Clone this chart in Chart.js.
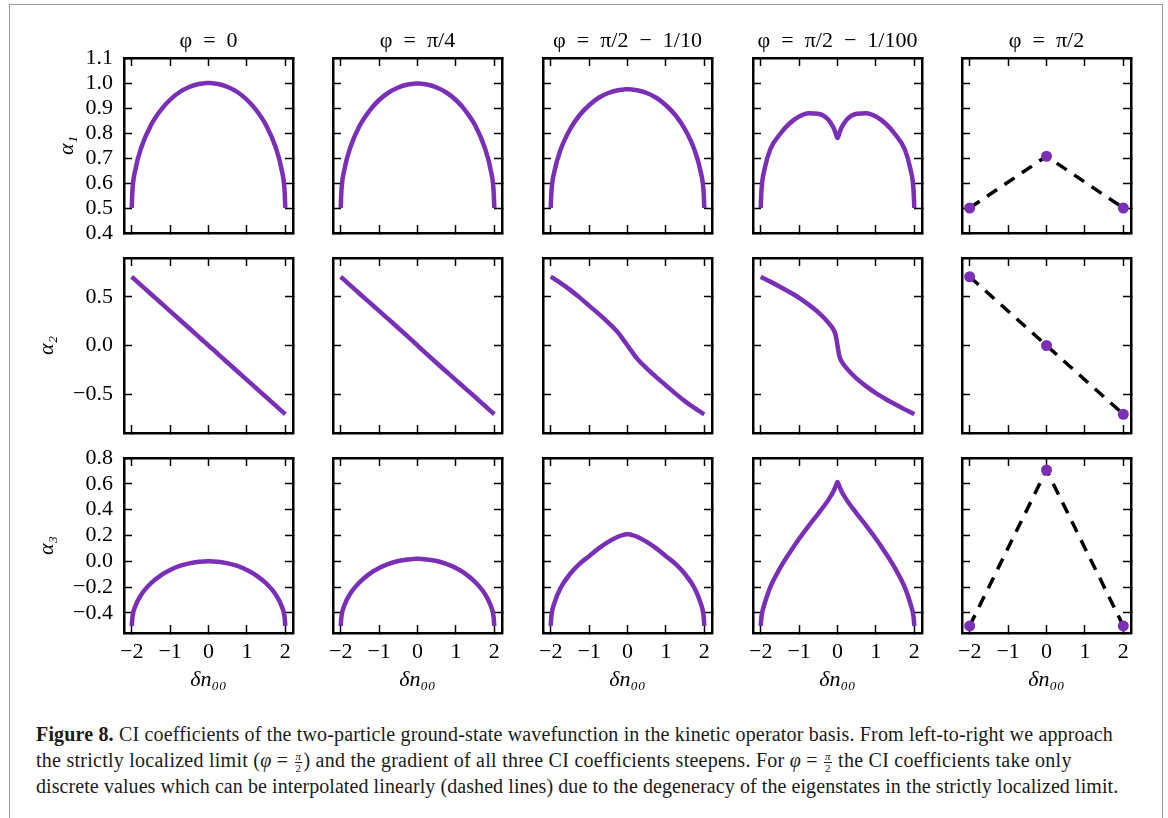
<!DOCTYPE html>
<html>
<head>
<meta charset="utf-8">
<script src="https://cdn.jsdelivr.net/npm/chart.js@4.4.0/dist/chart.umd.min.js"></script>
<style>
body { margin: 0; background: #fff; width: 1168px; height: 818px; overflow: hidden; position: relative; font-family: "Liberation Serif", serif; }
#frame { position: absolute; left: 9px; top: 4px; width: 1152px; height: 830px; border: 1.5px solid #9a9a9a; border-bottom: none; }
canvas { position: absolute; }
.cap { position: absolute; left: 36px; font-size: 20px; line-height: 26px; height: 26px; color: #1a1a1a; white-space: nowrap; }
.fr { display: inline-block; vertical-align: middle; font-size: 11px; line-height: 11px; text-align: center; margin: 0 1px; }
.fr span { display: block; padding: 0 1px; }
.fr .n { border-bottom: 1px solid #1a1a1a; }
</style>
</head>
<body>
<div id="frame"></div>
<div id="panels"></div>

<div class="cap" id="cap1" style="top:721px"><b>Figure 8.</b> CI coefficients of the two-particle ground-state wavefunction in the kinetic operator basis. From left-to-right we approach</div>
<div class="cap" id="cap2" style="top:747px">the strictly localized limit (<i>φ</i> = <span class="fr"><span class="n"><i>π</i></span><span>2</span></span>) and the gradient of all three CI coefficients steepens. For <i>φ</i> = <span class="fr"><span class="n"><i>π</i></span><span>2</span></span> the CI coefficients take only</div>
<div class="cap" id="cap3" style="top:773px">discrete values which can be interpolated linearly (dashed lines) due to the degeneracy of the eigenstates in the strictly localized limit.</div>

<script>
// =========================
// DATA
// =========================

const dn = [-2, -1.98, -1.9, -1.75, -1.5, -1.25, -1, -0.75, -0.5, -0.25, -0.1, -0.05, 0,
            0.05, 0.1, 0.25, 0.5, 0.75, 1, 1.25, 1.5, 1.75, 1.9, 1.98, 2];
const dnLocal = [-2, 0, 2];

// phi = 0
const a1_phi0 = [0.5, 0.571, 0.656, 0.742, 0.831, 0.890, 0.933, 0.964, 0.984, 0.996, 0.999, 1.0, 1.0,
                 1.0, 0.999, 0.996, 0.984, 0.964, 0.933, 0.890, 0.831, 0.742, 0.656, 0.571, 0.5];
const a2_phi0 = [0.707, 0.700, 0.672, 0.619, 0.530, 0.442, 0.354, 0.265, 0.177, 0.088, 0.035, 0.018, 0,
                 -0.018, -0.035, -0.088, -0.177, -0.265, -0.354, -0.442, -0.530, -0.619, -0.672, -0.700, -0.707];
const a3_phi0 = [-0.5, -0.43, -0.344, -0.258, -0.17, -0.11, -0.067, -0.036, -0.016, -0.004, -0.001, 0, 0,
                 0, -0.001, -0.004, -0.016, -0.036, -0.067, -0.11, -0.17, -0.258, -0.344, -0.43, -0.5];

// phi = pi/4
const a1_phi4 = [0.5, 0.571, 0.656, 0.742, 0.831, 0.889, 0.932, 0.962, 0.982, 0.994, 0.997, 0.998, 0.998,
                 0.998, 0.997, 0.994, 0.982, 0.962, 0.932, 0.889, 0.831, 0.742, 0.656, 0.571, 0.5];
const a2_phi4 = [0.707, 0.700, 0.672, 0.619, 0.530, 0.443, 0.356, 0.268, 0.180, 0.091, 0.037, 0.019, 0,
                 -0.019, -0.037, -0.091, -0.180, -0.268, -0.356, -0.443, -0.530, -0.619, -0.672, -0.700, -0.707];
const a3_phi4 = [-0.5, -0.428, -0.338, -0.25, -0.16, -0.097, -0.052, -0.02, 0.002, 0.014, 0.018, 0.02, 0.02,
                 0.02, 0.018, 0.014, 0.002, -0.02, -0.052, -0.097, -0.16, -0.25, -0.338, -0.428, -0.5];

// phi = pi/2 - 1/10
const a1_phi10 = [0.5, 0.567, 0.648, 0.730, 0.814, 0.871, 0.911, 0.941, 0.960, 0.971, 0.974, 0.975, 0.975,
                  0.975, 0.974, 0.971, 0.960, 0.941, 0.911, 0.871, 0.814, 0.730, 0.648, 0.567, 0.5];
const a2_phi10 = [0.707, 0.703, 0.683, 0.645, 0.575, 0.495, 0.41, 0.325, 0.235, 0.135, 0.055, 0.028, 0,
                  -0.028, -0.055, -0.135, -0.235, -0.325, -0.41, -0.495, -0.575, -0.645, -0.683, -0.703, -0.707];
const a3_phi10 = [-0.5, -0.42, -0.32, -0.21, -0.10, -0.02, 0.04, 0.10, 0.15, 0.19, 0.205, 0.209, 0.21,
                  0.209, 0.205, 0.19, 0.15, 0.10, 0.04, -0.02, -0.10, -0.21, -0.32, -0.42, -0.5];

// phi = pi/2 - 1/100
const a1_phi100 = [0.5, 0.57, 0.655, 0.735, 0.795, 0.838, 0.866, 0.879, 0.877, 0.855, 0.82, 0.80, 0.78,
                   0.80, 0.82, 0.855, 0.877, 0.879, 0.866, 0.838, 0.795, 0.735, 0.655, 0.57, 0.5];
const a2_phi100 = [0.707, 0.703, 0.687, 0.657, 0.605, 0.55, 0.49, 0.42, 0.34, 0.24, 0.16, 0.11, 0,
                   -0.11, -0.16, -0.24, -0.34, -0.42, -0.49, -0.55, -0.605, -0.657, -0.687, -0.703, -0.707];
const a3_phi100 = [-0.5, -0.43, -0.33, -0.2, -0.055, 0.065, 0.175, 0.275, 0.37, 0.47, 0.545, 0.58, 0.615,
                   0.58, 0.545, 0.47, 0.37, 0.275, 0.175, 0.065, -0.055, -0.2, -0.33, -0.43, -0.5];

// phi = pi/2 (discrete values)
const a1_local = [0.5, 0.707, 0.5];
const a2_local = [0.707, 0, -0.707];
const a3_local = [-0.5, 0.707, -0.5];

// ticks and labels
const xTicks = [-2, -1, 0, 1, 2];
const yTicksA1 = [0.4, 0.5, 0.6, 0.7, 0.8, 0.9, 1.0, 1.1];
const yTicksA2 = [-0.5, 0, 0.5];
const yTicksA3 = [-0.4, -0.2, 0, 0.2, 0.4, 0.6, 0.8];

const titles = ["φ\u2002=\u20020", "φ\u2002=\u2002π/4", "φ\u2002=\u2002π/2\u2002−\u20021/10",
                "φ\u2002=\u2002π/2\u2002−\u20021/100", "φ\u2002=\u2002π/2"];
const rowLabels = ["α₁", "α₂", "α₃"];
const xLabel = "δn₀₀";

// =========================
// LAYOUT
// =========================

const grid = [
    [a1_phi0, a1_phi4, a1_phi10, a1_phi100, a1_local],
    [a2_phi0, a2_phi4, a2_phi10, a2_phi100, a2_local],
    [a3_phi0, a3_phi4, a3_phi10, a3_phi100, a3_local]
];
const rowTicks = [yTicksA1, yTicksA2, yTicksA3];
const rowRange = [[0.4, 1.1], [-0.9, 0.9], [-0.555, 0.8]];

const colLeft = [124, 333, 543, 753, 962];
const rowTop = [58, 258, 458];
const PW = 169, PH = 175;

const PURPLE = "#7b2fb7";
const FONT = "'Liberation Serif', 'DejaVu Serif', serif";
const FS = 22;

Chart.defaults.font.family = FONT;
Chart.defaults.color = "#000";

const minus = v => (v < 0 ? "−" : "") + Math.abs(v);
const fmtY = v => (v < 0 ? "−" : "") + Math.abs(v).toFixed(1);

const gridOpts = {
    display: true,
    drawOnChartArea: false,
    drawTicks: true,
    tickLength: -8,
    tickWidth: 1.5,
    tickColor: "#000"
};
const borderOpts = { display: true, color: "#000", width: 2.5 };

function noPad(s) {
    s.paddingLeft = 0; s.paddingRight = 0;
    s.paddingTop = 0; s.paddingBottom = 0;
}

function makePanel(r, c) {

    const L = c === 0 ? (r === 0 ? 74 : 94) : 24;
    const R = 12;
    const T = r === 0 ? 30 : 14;
    const B = r === 2 ? 72 : 8;

    const canvas = document.createElement("canvas");
    canvas.width = L + PW + R;
    canvas.height = T + PH + B;
    canvas.style.left = (colLeft[c] - L) + "px";
    canvas.style.top = (rowTop[r] - T) + "px";
    document.getElementById("panels").appendChild(canvas);

    const vals = grid[r][c];
    let datasets;

    if (c === 4) {
        const pts = dnLocal.map((x, i) => ({ x: x, y: vals[i] }));
        datasets = [
            {
                data: pts,
                showLine: false,
                pointRadius: 5.5,
                pointBackgroundColor: PURPLE,
                pointBorderWidth: 0
            },
            {
                data: pts,
                showLine: true,
                borderColor: "#000",
                borderWidth: 3.5,
                borderDash: [12, 9],
                pointRadius: 0
            }
        ];
    } else {
        datasets = [{
            data: dn.map((x, i) => ({ x: x, y: vals[i] })),
            showLine: true,
            borderColor: PURPLE,
            borderWidth: 4.5,
            pointRadius: 0,
            cubicInterpolationMode: "monotone"
        }];
    }

    const yr = rowRange[r];
    const yt = rowTicks[r];
    const titleH = FS * 1.2 + 2;

    new Chart(canvas.getContext("2d"), {
        type: "scatter",
        data: { datasets: datasets },
        options: {
            responsive: false,
            animation: false,
            devicePixelRatio: 1,
            layout: { padding: 0 },
            events: [],
            plugins: {
                legend: { display: false },
                tooltip: { enabled: false },
                title: {
                    display: r === 0,
                    text: titles[c],
                    fullSize: false,
                    color: "#000",
                    font: { size: FS, weight: "normal", lineHeight: 1.2 },
                    padding: { top: 0, bottom: 2 }
                }
            },
            scales: {
                x: {
                    type: "linear",
                    position: "bottom",
                    min: -2.2,
                    max: 2.2,
                    afterBuildTicks: s => { s.ticks = xTicks.map(v => ({ value: v })); },
                    afterFit: s => { s.height = B; noPad(s); },
                    ticks: {
                        display: r === 2,
                        padding: 14,
                        autoSkip: false,
                        maxRotation: 0,
                        color: "#000",
                        font: { size: FS },
                        callback: v => minus(v)
                    },
                    grid: gridOpts,
                    border: borderOpts,
                    title: {
                        display: r === 2,
                        text: xLabel,
                        color: "#000",
                        font: { size: FS, style: "italic" },
                        padding: { top: 8, bottom: 12 }
                    }
                },
                x2: {
                    type: "linear",
                    axis: "x",
                    position: "top",
                    min: -2.2,
                    max: 2.2,
                    afterBuildTicks: s => { s.ticks = xTicks.map(v => ({ value: v })); },
                    afterFit: s => { s.height = r === 0 ? T - titleH : T; noPad(s); },
                    ticks: { display: false },
                    grid: gridOpts,
                    border: borderOpts
                },
                y: {
                    type: "linear",
                    position: "left",
                    min: yr[0],
                    max: yr[1],
                    afterBuildTicks: s => { s.ticks = yt.map(v => ({ value: v })); },
                    afterFit: s => { s.width = L; noPad(s); },
                    ticks: {
                        display: c === 0,
                        padding: 19,
                        autoSkip: false,
                        color: "#000",
                        font: { size: FS },
                        callback: v => fmtY(v)
                    },
                    grid: gridOpts,
                    border: borderOpts,
                    title: {
                        display: c === 0,
                        text: rowLabels[r],
                        color: "#000",
                        font: { size: FS, style: "italic" },
                        padding: { top: 4, bottom: 4 }
                    }
                },
                y2: {
                    type: "linear",
                    axis: "y",
                    position: "right",
                    min: yr[0],
                    max: yr[1],
                    afterBuildTicks: s => { s.ticks = yt.map(v => ({ value: v })); },
                    afterFit: s => { s.width = R; noPad(s); },
                    ticks: { display: false, autoSkip: false },
                    grid: gridOpts,
                    border: borderOpts
                }
            }
        }
    });
}

for (let r = 0; r < 3; r++) {
    for (let c = 0; c < 5; c++) {
        makePanel(r, c);
    }
}

// =========================
// CAPTION WIDTHS
// =========================

const capTargets = { cap1: 1077, cap2: 1036, cap3: 1082 };

Object.keys(capTargets).forEach(id => {
    const el = document.getElementById(id);
    const natural = el.scrollWidth;
    const chars = el.textContent.length;
    const ls = (capTargets[id] - natural) / chars;
    el.style.letterSpacing = ls.toFixed(3) + "px";
});
</script>
</body>
</html>
